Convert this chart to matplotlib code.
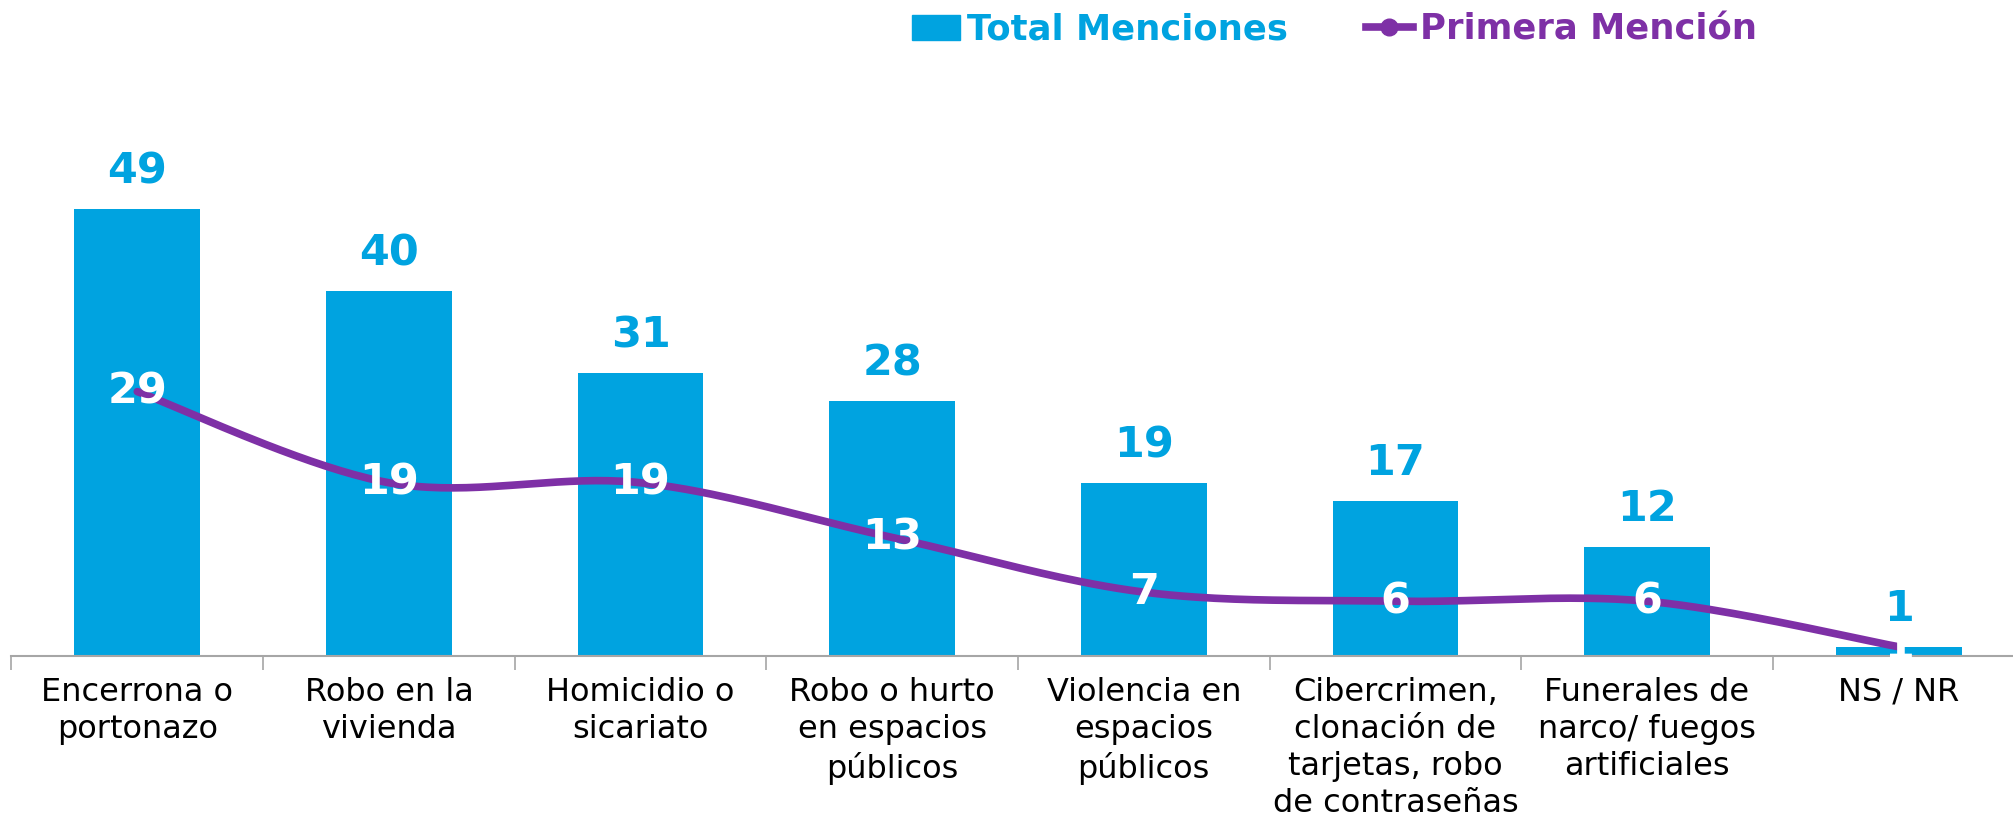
import numpy as np
import matplotlib.pyplot as plt
from matplotlib.patches import Patch
from matplotlib.lines import Line2D

categorias = ['Encerrona o\nportonazo', 'Robo en la\nvivienda', 'Homicidio o\nsicariato',
              'Robo o hurto\nen espacios\npúblicos', 'Violencia en\nespacios\npúblicos',
              'Cibercrimen,\nclonación de\ntarjetas, robo\nde contraseñas',
              'Funerales de\nnarco/ fuegos\nartificiales', 'NS / NR']
total_menciones = [49, 40, 31, 28, 19, 17, 12, 1]
primera_mencion = [29, 19, 19, 13, 7, 6, 6, 1]

azul = '#00A3E0'
morado = '#7E30A6'

plt.rcParams['font.family'] = ['DejaVu Sans']

fig = plt.figure(figsize=(20.13, 8.24), dpi=100)
ax = fig.add_axes([0.0057, 0.204, 1.0, 0.6636])

x = np.arange(len(categorias))
ax.bar(x, total_menciones, width=0.5, color=azul, zorder=2)

# linea suavizada (tipo excel, catmull-rom)
px = np.concatenate([[x[0]], x, [x[-1]]]).astype(float)
py = np.concatenate([[primera_mencion[0]], primera_mencion, [primera_mencion[-1]]]).astype(float)
sx, sy = [], []
t = np.linspace(0, 1, 40)
for i in range(1, len(px) - 2):
    p0, p1, p2, p3 = (px[i-1], py[i-1]), (px[i], py[i]), (px[i+1], py[i+1]), (px[i+2], py[i+2])
    c1 = (p1[0] + (p2[0] - p0[0]) / 6, p1[1] + (p2[1] - p0[1]) / 6)
    c2 = (p2[0] - (p3[0] - p1[0]) / 6, p2[1] - (p3[1] - p1[1]) / 6)
    bx = (1-t)**3*p1[0] + 3*(1-t)**2*t*c1[0] + 3*(1-t)*t**2*c2[0] + t**3*p2[0]
    by = (1-t)**3*p1[1] + 3*(1-t)**2*t*c1[1] + 3*(1-t)*t**2*c2[1] + t**3*p2[1]
    sx.extend(bx)
    sy.extend(by)
ax.plot(sx, sy, color=morado, lw=5.5, solid_capstyle='round', zorder=3)

for xi, v in zip(x, total_menciones):
    ax.annotate(str(v), (xi, v), xytext=(0, 27), textcoords='offset points',
                ha='center', va='center', fontsize=31, fontweight='bold', color=azul)
for xi, v in zip(x, primera_mencion):
    ax.text(xi, v, str(v), ha='center', va='center', fontsize=31,
            fontweight='bold', color='white', zorder=4)

ax.set_xlim(-0.5, len(categorias) - 0.5)
ax.set_ylim(0, 60)
ax.set_xticks(x)
ax.set_xticklabels(categorias, fontsize=23, linespacing=1.26)
ax.set_xticks(np.arange(-0.5, len(categorias)), minor=True)
ax.tick_params(axis='x', which='major', length=0, pad=15)
ax.tick_params(axis='x', which='minor', length=10, width=1.2, color='#A6A6A6')
ax.set_yticks([])
for s in ['top', 'right', 'left']:
    ax.spines[s].set_visible(False)
ax.spines['bottom'].set_color('#A6A6A6')
ax.spines['bottom'].set_linewidth(1.5)

handles = [Patch(color=azul, label='Total Menciones'),
           Line2D([0], [0], color=morado, lw=5.5, marker='o', markersize=12,
                  label='Primera Mención')]
leg = fig.legend(handles=handles, loc='center', bbox_to_anchor=(0.663, 0.964), ncol=2,
                 frameon=False, prop={'size': 25.5, 'weight': 'bold'},
                 handlelength=1.35, handletextpad=0.2, columnspacing=2.2)
leg.get_texts()[0].set_color(azul)
leg.get_texts()[1].set_color(morado)

fig.savefig('out.png', dpi=100)
